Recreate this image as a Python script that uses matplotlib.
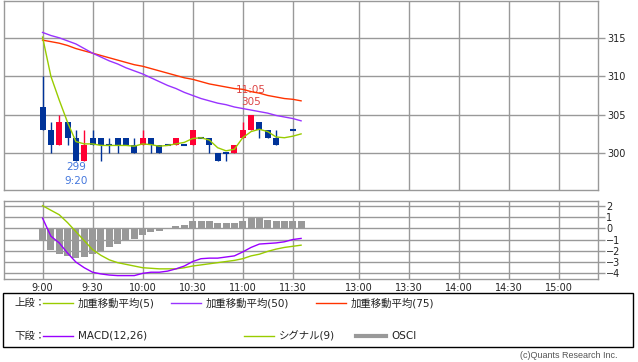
import matplotlib
matplotlib.use('Agg')
import matplotlib.pyplot as plt
from matplotlib.lines import Line2D
from matplotlib.patches import Rectangle

plt.rcParams['font.family'] = ['DejaVu Sans', 'Noto Sans CJK JP']

# 5-minute candles, morning session (None = no trade in that slot)
candle_times = ['9:00', '9:05', '9:10', '9:15', '9:20', '9:25', '9:30', '9:35', '9:40', '9:45',
                '9:50', '9:55', '10:00', '10:05', '10:10', '10:15', '10:20', '10:25', '10:30', '10:35',
                '10:40', '10:45', '10:50', '10:55', '11:00', '11:05', '11:10', '11:15', '11:20', '11:25',
                '11:30']
opens = [306, 303, 301, 304, 302, 299, 302, 302, 301, 302,
         302, 301, 301, 302, 301, 301, 301, 301, 301, 302,
         302, 300, 300, 300, 302, 303, 304, 303, 302, None,
         303]
highs = [310, 304, 305, 304, 303, 303, 303, 302, 302, 302,
         302, 302, 303, 302, 301, 301, 302, 301, 303, 302,
         302, 300, 300, 301, 304, 305, 304, 303, 303, None,
         303]
lows = [303, 300, 301, 301, 299, 299, 301, 299, 300, 300,
        301, 300, 301, 300, 300, 301, 301, 301, 301, 302,
        300, 299, 299, 300, 302, 303, 302, 302, 301, None,
        303]
closes = [303, 301, 304, 302, 299, 301, 301, 301, 301, 301,
          301, 300, 302, 301, 300, 301, 302, 301, 303, 302,
          301, 299, 300, 301, 303, 305, 303, 302, 301, None,
          303]

# indicator series run one slot further (to 11:35)
line_times = candle_times + ['11:35']
wma5 = [315.1, 310.0, 306.9, 304.0, 301.5, 301.2, 301.2, 301.0, 301.0, 301.0,
        301.0, 300.9, 301.2, 301.1, 300.9, 301.0, 301.2, 301.4, 301.9, 302.0,
        301.7, 300.7, 300.3, 300.5, 302.0, 302.8, 303.1, 302.8, 302.1, 302.0,
        302.2, 302.5]
wma50 = [315.7, 315.3, 315.0, 314.6, 314.2, 313.6, 313.0, 312.5, 312.0, 311.6,
         311.1, 310.7, 310.3, 309.8, 309.3, 308.8, 308.4, 307.9, 307.5, 307.1,
         306.8, 306.5, 306.3, 306.0, 305.8, 305.6, 305.4, 305.2, 304.9, 304.7,
         304.5, 304.2]
wma75 = [314.7, 314.5, 314.3, 314.0, 313.6, 313.3, 313.0, 312.7, 312.4, 312.1,
         311.8, 311.5, 311.3, 311.0, 310.7, 310.4, 310.1, 309.8, 309.6, 309.3,
         309.0, 308.8, 308.6, 308.4, 308.3, 308.0, 307.8, 307.5, 307.3, 307.1,
         307.0, 306.8]
macd = [0.9, -0.7, -1.3, -2.2, -3.0, -3.5, -3.9, -4.05, -4.15, -4.2,
        -4.2, -4.2, -4.0, -3.9, -3.9, -3.8, -3.6, -3.35, -2.95, -2.7,
        -2.65, -2.65, -2.55, -2.45, -2.1, -1.7, -1.4, -1.35, -1.3, -1.2,
        -1.0, -0.9]
signal = [2.0, 1.6, 1.2, 0.5, -0.3, -1.1, -1.9, -2.4, -2.8, -3.05,
          -3.2, -3.35, -3.5, -3.55, -3.6, -3.6, -3.6, -3.5, -3.35, -3.25,
          -3.15, -3.05, -2.95, -2.85, -2.7, -2.45, -2.3, -2.05, -1.85, -1.7,
          -1.6, -1.5]
osci = [-1.1, -1.9, -2.3, -2.45, -2.65, -2.55, -2.3, -2.0, -1.65, -1.4,
        -1.1, -0.95, -0.6, -0.35, -0.2, -0.05, 0.2, 0.3, 0.6, 0.6,
        0.6, 0.45, 0.45, 0.5, 0.65, 0.9, 0.9, 0.75, 0.65, 0.65,
        0.65, 0.65]

axis_labels = ['9:00', '9:30', '10:00', '10:30', '11:00', '11:30',
               '13:00', '13:30', '14:00', '14:30', '15:00']
price_ticks = [300, 305, 310, 315]
macd_ticks = [2, 1, 0, -1, -2, -3, -4]

UP = '#ff0033'
DOWN = '#003399'
GRID = '#999999'
LUNCH_GAP = 9.6  # minutes of axis space between 11:30 and 12:30


def to_x(t):
    h, m = map(int, t.split(':'))
    mins = h * 60 + m - 540
    if mins >= 210:  # afternoon session starts 12:30
        mins = 150 + LUNCH_GAP + (mins - 210)
    return mins


def style_axis(ax, ticks):
    ax.set_xlim(-23.4, 333)
    ax.set_xticks([to_x(t) for t in axis_labels])
    ax.set_yticks(ticks)
    ax.yaxis.tick_right()
    ax.grid(True, color=GRID, lw=1)
    ax.set_axisbelow(True)
    for s in ax.spines.values():
        s.set_color(GRID)
        s.set_linewidth(1)
    ax.tick_params(axis='y', length=5, width=1, color=GRID, pad=2,
                   labelsize=7, labelcolor='#222222')
    ax.tick_params(axis='x', length=0, labelsize=7, labelcolor='#222222', pad=3)


fig = plt.figure(figsize=(6.38, 3.62), dpi=100)
ax1 = fig.add_axes([0.0055, 0.4751, 0.9318, 0.5224])
ax2 = fig.add_axes([0.0055, 0.2293, 0.9318, 0.2155])

# upper panel: candles + weighted moving averages
style_axis(ax1, price_ticks)
ax1.set_ylim(295.2, 319.8)
ax1.set_xticklabels([])
for t, o, h, l, c in zip(candle_times, opens, highs, lows, closes):
    if o is None:
        continue
    x = to_x(t)
    col = UP if c > o else DOWN
    ax1.vlines(x, l, h, color=col, lw=1, zorder=2)
    if c == o:
        ax1.hlines(o, x - 1.8, x + 1.8, color=col, lw=1.5, zorder=3)
    else:
        ax1.bar(x, abs(c - o), bottom=min(o, c), width=3.6, color=col, zorder=3)

lx = [to_x(t) for t in line_times]
ax1.plot(lx, wma75, color='#ff3300', lw=1, zorder=4)
ax1.plot(lx, wma50, color='#9933ff', lw=1, zorder=4)
ax1.plot(lx, wma5, color='#99cc00', lw=1, zorder=4)

# lowest / highest close annotations
valid = [i for i, c in enumerate(closes) if c is not None]
lo_i = min(valid, key=lambda i: closes[i])
hi_i = max(valid, key=lambda i: closes[i])
ax1.text(to_x(candle_times[lo_i]), closes[lo_i] - 0.8, str(closes[lo_i]), color='#4477dd',
         ha='center', va='center', fontsize=7.5)
ax1.text(to_x(candle_times[lo_i]), closes[lo_i] - 2.6, candle_times[lo_i], color='#4477dd',
         ha='center', va='center', fontsize=7.5)
ax1.text(to_x(candle_times[hi_i]), closes[hi_i] + 3.2, candle_times[hi_i], color='#dd4444',
         ha='center', va='center', fontsize=7.5)
ax1.text(to_x(candle_times[hi_i]), closes[hi_i] + 1.6, str(closes[hi_i]), color='#dd4444',
         ha='center', va='center', fontsize=7.5)

# lower panel: MACD
style_axis(ax2, macd_ticks)
ax2.set_ylim(-4.5, 2.42)
ax2.set_xticklabels(axis_labels)
ax2.set_yticklabels([str(v).replace('-', '\u2212') for v in macd_ticks])
ax2.tick_params(axis='y', pad=1, labelsize=7)
ax2.bar(lx, osci, width=4.2, color='#999999', zorder=2)
ax2.plot(lx, signal, color='#99cc00', lw=1, zorder=3)
ax2.plot(lx, macd, color='#9900ff', lw=1, zorder=3)

# legend box
W, H = 638.0, 362.0
fig.add_artist(Rectangle((3 / W, 1 - 347 / H), 630 / W, 54 / H, transform=fig.transFigure,
                         fill=False, ec='black', lw=1))


def legend_row(y, title, items):
    yf = 1 - y / H
    fig.text(14 / W, yf, title, ha='left', va='center', fontsize=7.5, color='#222222')
    for x0, col, lw, label in items:
        fig.add_artist(Line2D([x0 / W, (x0 + 30) / W], [yf, yf], transform=fig.transFigure,
                              color=col, lw=lw))
        fig.text((x0 + 35) / W, yf, label, ha='left', va='center', fontsize=7.5, color='#222222')


legend_row(303, '上段：', [(43, '#99cc00', 1, '加重移動平均(5)'),
                          (171, '#9933ff', 1, '加重移動平均(50)'),
                          (316, '#ff3300', 1, '加重移動平均(75)')])
legend_row(336, '下段：', [(43, '#9900ff', 1, 'MACD(12,26)'),
                          (244, '#99cc00', 1, 'シグナル(9)'),
                          (356, '#999999', 3, 'OSCI')])

fig.text(618 / W, 1 - 356 / H, '(c)Quants Research Inc.', ha='right', va='center',
         fontsize=6.5, color='#555555', family='Liberation Sans')

fig.savefig('out.png', dpi=100)
